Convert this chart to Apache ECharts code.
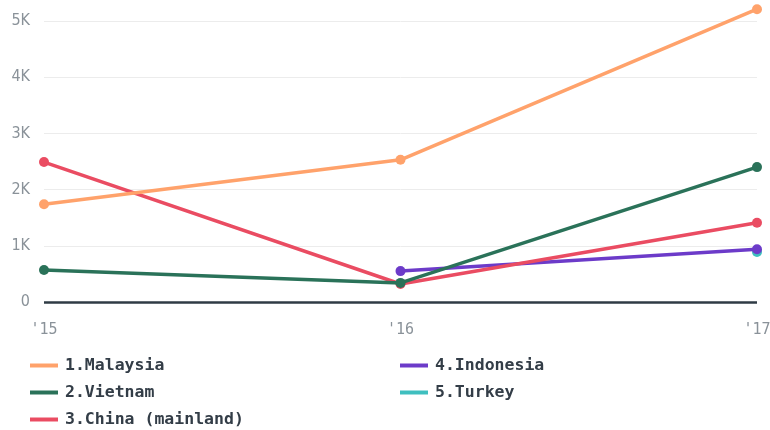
<!DOCTYPE html>
<html><head><meta charset="utf-8">
<script src="https://cdn.jsdelivr.net/npm/echarts@6/dist/echarts.min.js"></script>
<style>html,body{margin:0;padding:0;background:#fff}#c{width:770px;height:430px}</style>
</head><body><div id="c"></div>
<script>
const categories = ["'15", "'16", "'17"];
const malaysia = [1740, 2530, 5210];
const vietnam = [570, 340, 2400];
const china = [2490, 320, 1410];
const indonesia = [null, 550, 940];
const turkey = [null, null, 890];
const names = ['1.Malaysia', '2.Vietnam', '3.China (mainland)', '4.Indonesia', '5.Turkey'];
const colors = ['#ffa26b', '#2a7259', '#ea4c62', '#6c3bc9', '#3fbfbf'];
const dataSets = [malaysia, vietnam, china, indonesia, turkey];

const chart = echarts.init(document.getElementById('c'));
const legendText = {fontFamily: 'DejaVu Sans Mono', fontWeight: 'bold', fontSize: 16.5, color: '#333d47', padding: [0, 0, 0, 2]};
chart.setOption({
  animation: false,
  grid: {left: 44, right: 13, top: 21, bottom: 128, outerBoundsMode: 'none', containLabel: false},
  legend: [
    {data: names.slice(0, 3), orient: 'vertical', left: 25, top: 352, height: 120, padding: [5, 5, 0, 5], itemGap: 10, itemWidth: 28, itemHeight: 4, icon: 'rect', textStyle: legendText},
    {data: names.slice(3), orient: 'vertical', left: 395, top: 352, height: 120, padding: [5, 5, 0, 5], itemGap: 10, itemWidth: 28, itemHeight: 4, icon: 'rect', textStyle: legendText}
  ],
  xAxis: {
    type: 'category', data: categories, boundaryGap: false,
    axisLine: {show: false}, axisTick: {show: false},
    axisLabel: {margin: 21, color: '#8a9299', fontFamily: 'DejaVu Sans Mono', fontSize: 15}
  },
  yAxis: {
    type: 'value', min: 0, max: 5000, interval: 1000,
    axisLabel: {margin: 14, color: '#8a9299', fontFamily: 'DejaVu Sans Condensed', fontSize: 16,
      formatter: v => v === 0 ? '0' : (v / 1000) + 'K'},
    splitLine: {lineStyle: {color: '#ececec', width: 1}},
    axisLine: {show: false}
  },
  series: dataSets.map((d, i) => ({
    name: names[i], type: 'line', data: d, clip: false,
    symbol: 'circle', symbolSize: 10,
    lineStyle: {width: 3.5, color: colors[i]},
    itemStyle: {color: colors[i], borderWidth: 0},
    z: 10 - i,
    markLine: i === 0 ? {silent: true, symbol: 'none', label: {show: false}, lineStyle: {color: '#2f3b45', width: 2.5, type: 'solid'}, data: [{yAxis: 0}]} : undefined
  }))
});
</script></body></html>
